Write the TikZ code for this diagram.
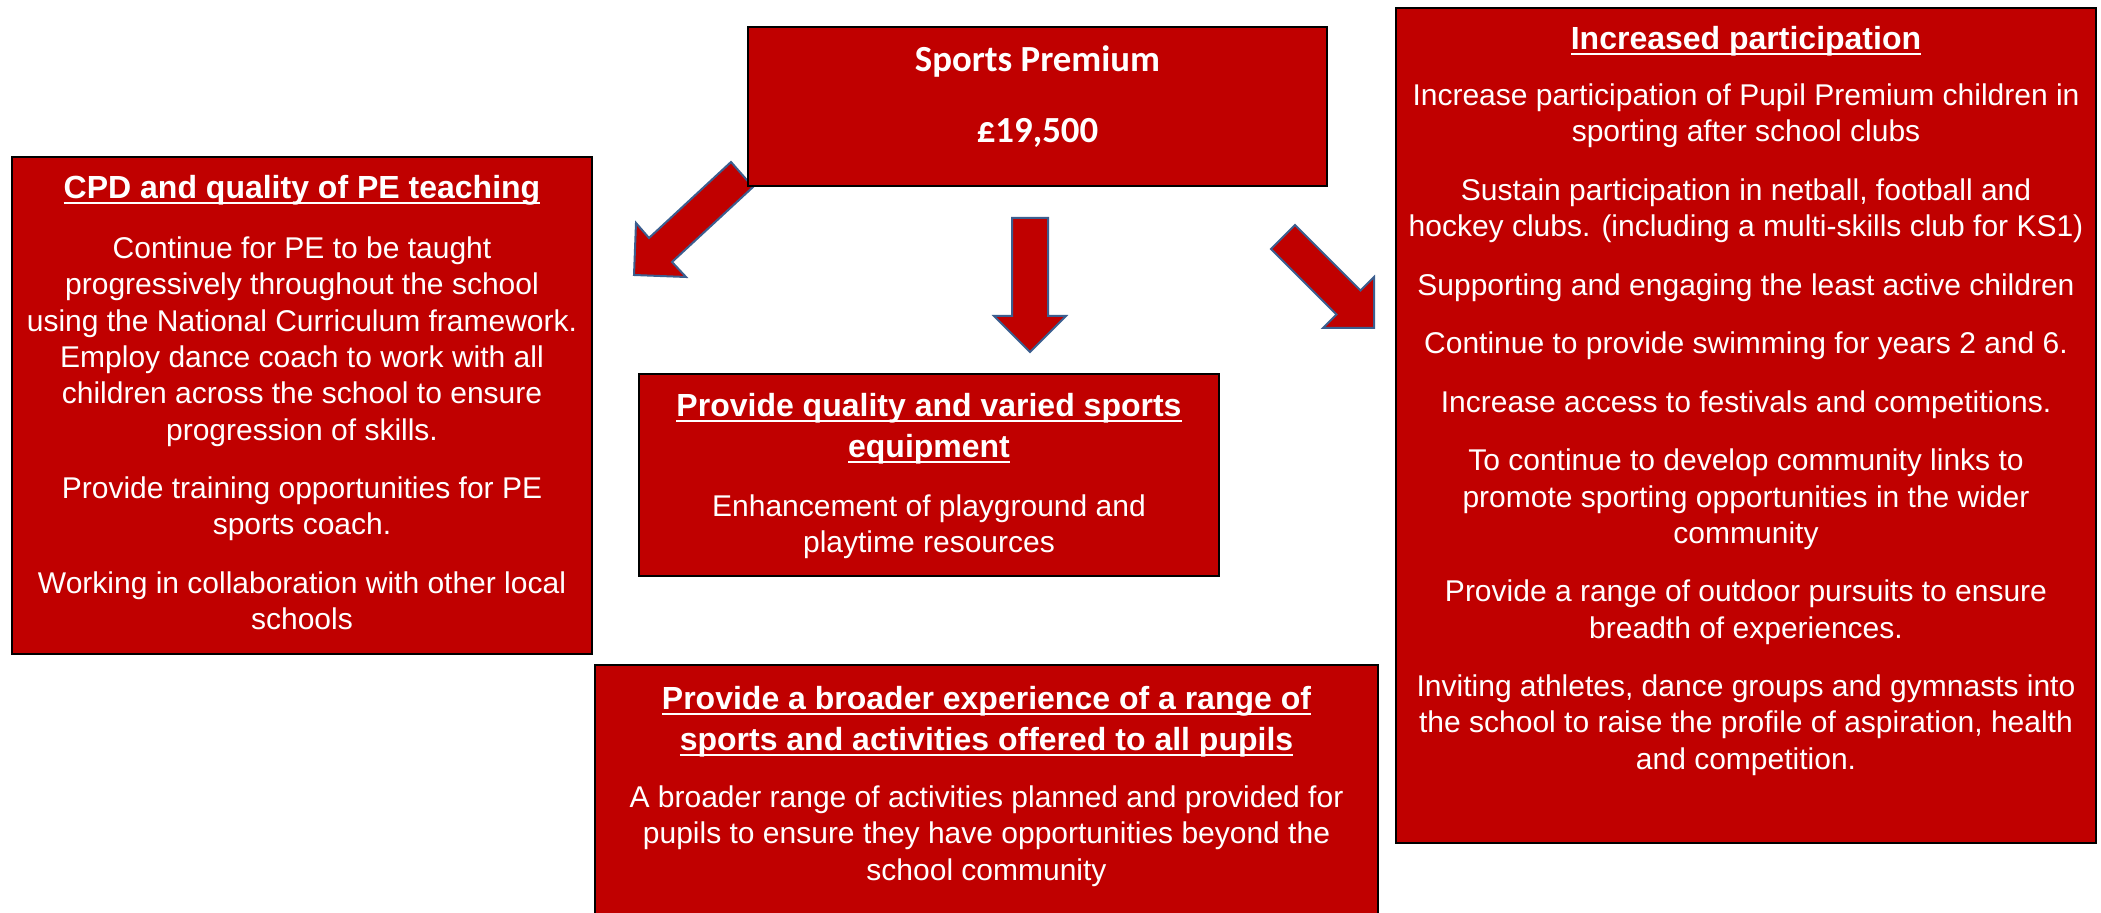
\documentclass[tikz,border=0pt]{standalone}
\usepackage{fontspec}
\setmainfont{Liberation Sans}
\newfontfamily\calibri{Carlito}
\usetikzlibrary{fit}
\definecolor{boxred}{HTML}{C00000}
\definecolor{arrowblue}{HTML}{3B5E8F}
\newcommand\ulx[1]{\setbox0\hbox{#1}\rlap{\rule[-2.9pt]{\wd0}{1.4pt}}\box0}
\begin{document}
\begin{tikzpicture}[x=0.5pt,y=-0.5pt,
  box/.style={draw=black, line width=0.9pt, fill=boxred, inner sep=0pt},
  blockarrow/.style={draw=arrowblue, line width=1pt, fill=boxred, line join=miter},
  ttl/.style={text=white, font=\fontsize{16}{20.5}\selectfont\bfseries, align=center, inner sep=0pt, anchor=north},
  bdy/.style={text=white, font=\fontsize{15}{18.15}\selectfont, align=center, inner sep=0pt, anchor=north},
  sptxt/.style={text=white, font=\calibri\bfseries\fontsize{18.4}{22}\selectfont, inner sep=0pt, anchor=base}]
\clip (0,0) rectangle (2101,913);
\fill[white] (0,0) rectangle (2101,913);

% block arrows
\draw[blockarrow] (731,162) -- (649,238) -- (636,223) -- (634,275) -- (686,277) -- (672,262) -- (753,187) -- cycle;
\draw[blockarrow] (1012,218) -- (1012,316) -- (994,316) -- (1030,352) -- (1066,316) -- (1048,316) -- (1048,218) -- cycle;
\draw[blockarrow] (1295,225) -- (1360.5,290.5) -- (1374,277) -- (1374,328) -- (1323,328) -- (1336.5,314.5) -- (1271,249) -- cycle;

% boxes
\node[box, fit={(748,27) (1327,186)}] (sp) {};
\node[box, fit={(12,157) (592,654)}] (cpd) {};
\node[box, fit={(639,374) (1219,576)}] (equip) {};
\node[box, fit={(595,665) (1378,940)}] (broad) {};
\node[box, fit={(1396,8) (2096,843)}] (part) {};

% Sports Premium
\node[sptxt] (spT) at (1037.5,72) {Sports Premium};
\node[sptxt] (spV) at (1037.5,143) {£19,500};

% CPD
\node[ttl] (cpdT) at (302,175) {\ulx{CPD and quality of PE teaching}};
\node[bdy] (cpdB) at (302,236.5) {Continue for PE to be taught\\progressively throughout the school\\using the National Curriculum framework.\\Employ dance coach to work with all\\children across the school to ensure\\progression of skills.\\[11.1pt]Provide training opportunities for PE\\sports coach.\\[11.1pt]Working in collaboration with other local\\schools};

% Equipment
\node[ttl] (eqT) at (929,393) {\ulx{Provide quality and varied sports}\\\ulx{equipment}};
\node[bdy] (eqB) at (929,494.3) {Enhancement of playground and\\playtime resources};

% Broader
\node[ttl] (brT) at (986.5,686) {\ulx{Provide a broader experience of a range of}\\\ulx{sports and activities offered to all pupils}};
\node[bdy] (brB) at (986.5,785.3) {A broader range of activities planned and provided for\\pupils to ensure they have opportunities beyond the\\school community};

% Participation
\node[ttl] (paT) at (1746,26) {\ulx{Increased participation}};
\node[bdy] (paB) at (1746,83.5) {Increase participation of Pupil Premium children in\\sporting after school clubs\\[11.1pt]Sustain participation in netball, football and\\hockey clubs. (including a multi-skills club for KS1)\\[11.1pt]Supporting and engaging the least active children\\[11.1pt]Continue to provide swimming for years 2 and 6.\\[11.1pt]Increase access to festivals and competitions.\\[11.1pt]To continue to develop community links to\\promote sporting opportunities in the wider\\community\\[11.1pt]Provide a range of outdoor pursuits to ensure\\breadth of experiences.\\[11.1pt]Inviting athletes, dance groups and gymnasts into\\the school to raise the profile of aspiration, health\\and competition.};
\end{tikzpicture}
\end{document}
